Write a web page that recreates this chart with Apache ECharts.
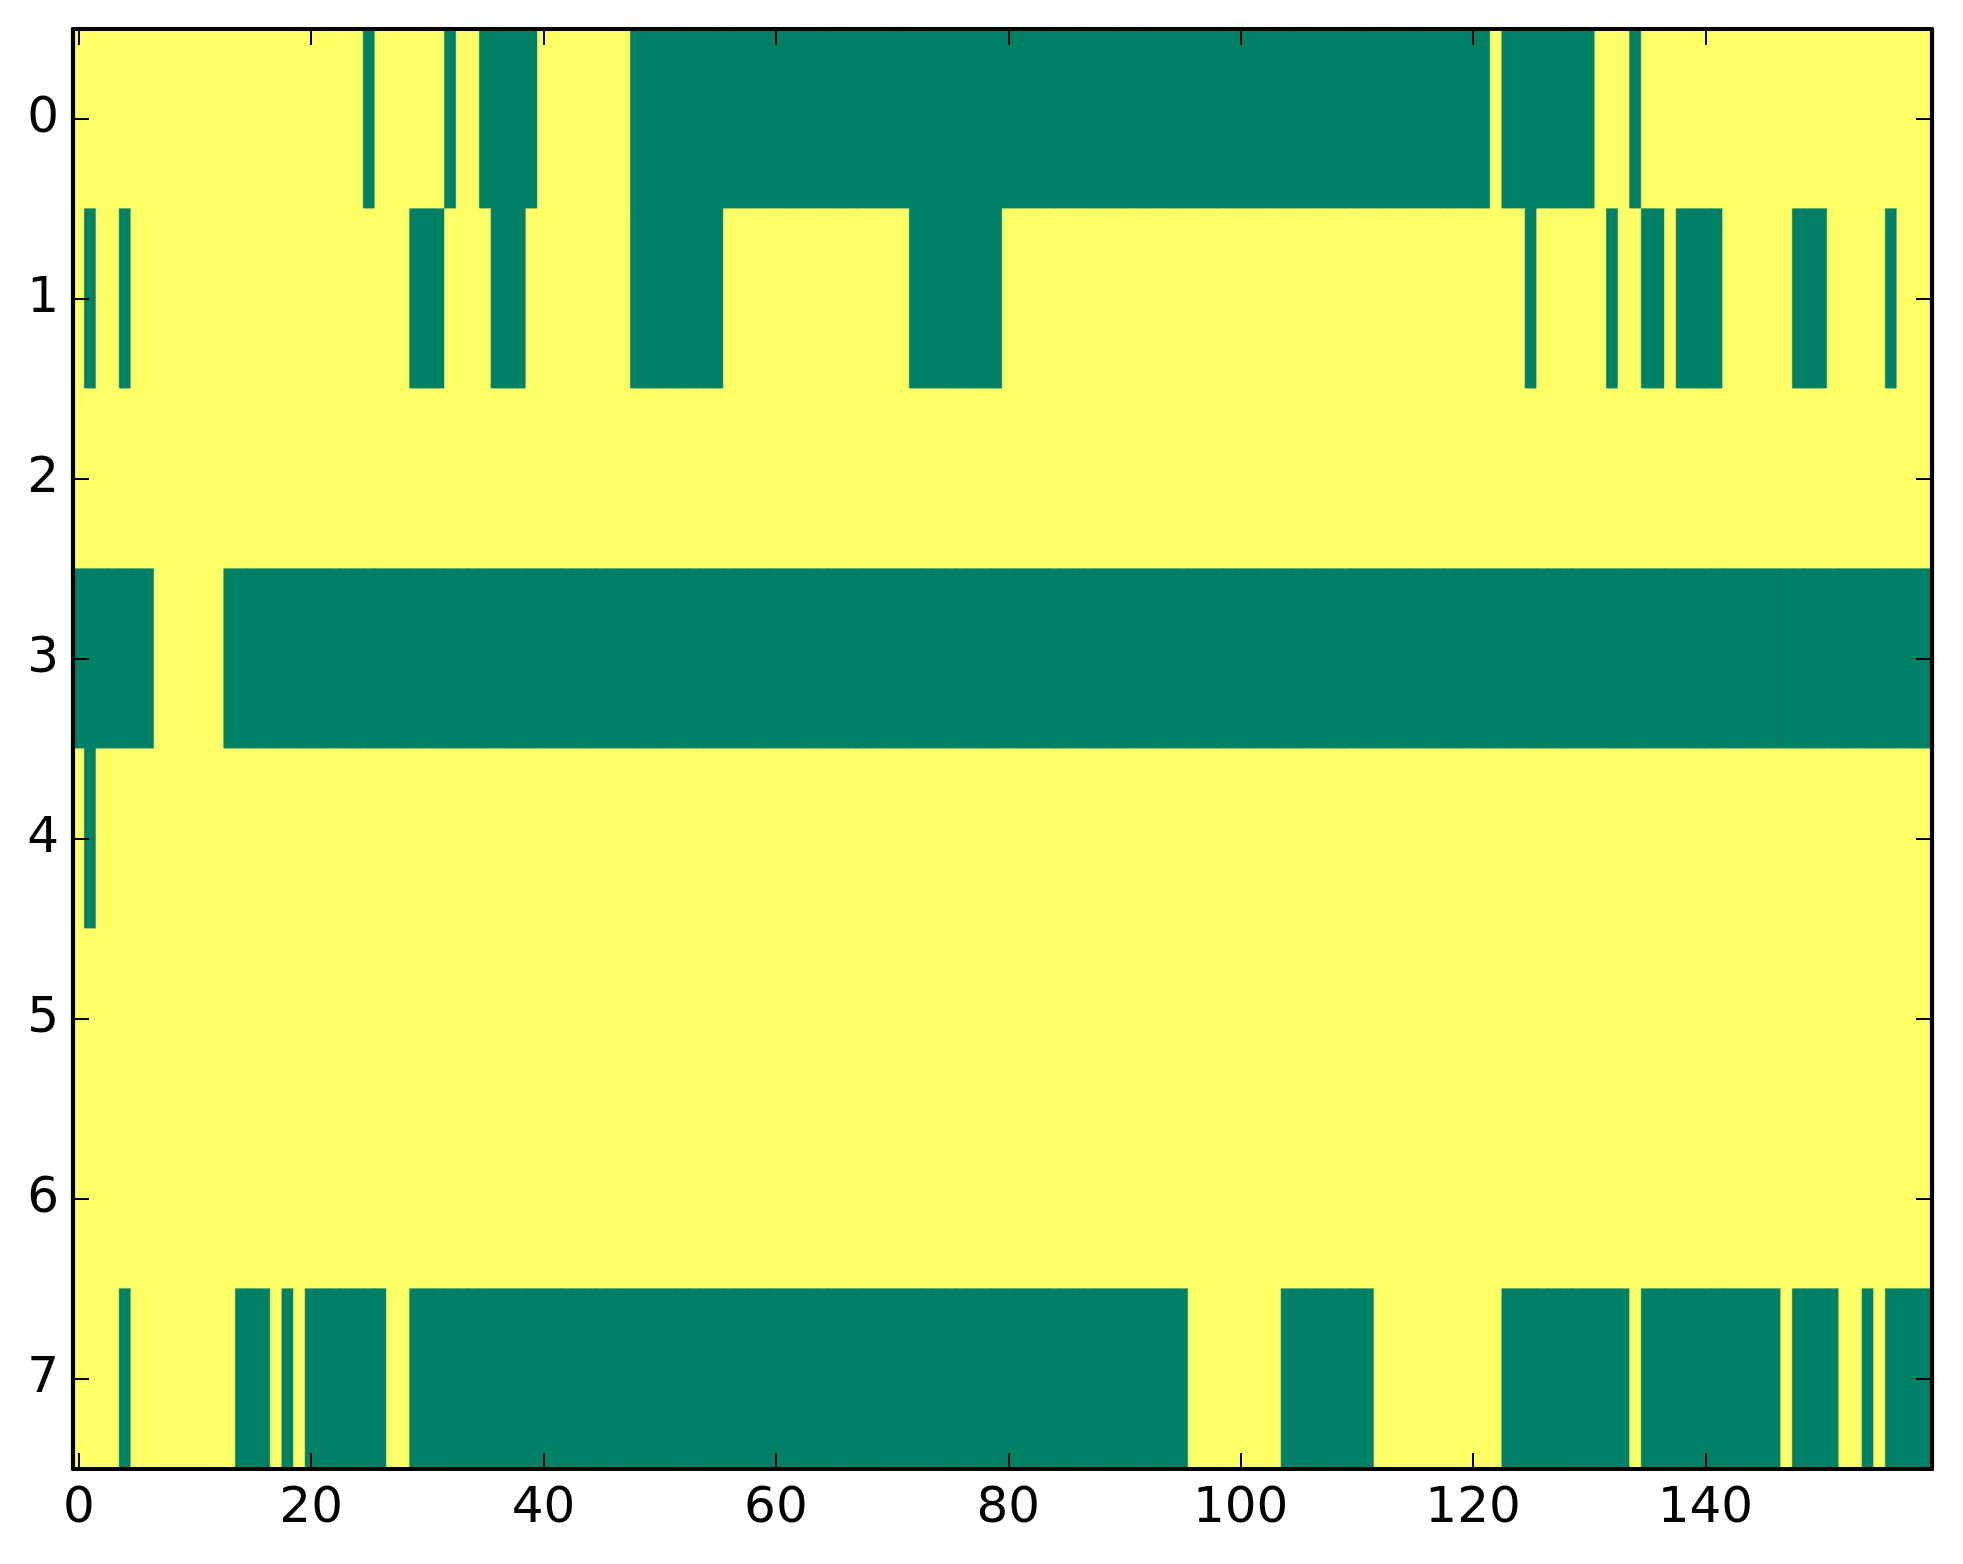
<!DOCTYPE html>
<html>
<head>
<meta charset="utf-8">
<script src="https://cdn.jsdelivr.net/npm/echarts@6/dist/echarts.min.js"></script>
<style>
html,body{margin:0;padding:0;background:#fff;}
#chart{width:1963px;height:1564px;}
</style>
</head>
<body>
<div id="chart"></div>
<script>
// Matrix values: 1 = yellow, 0 = green (groups of 10 columns)
const row0 = "1111111111 1111111111 1111101111 1101100000 1111111100 0000000000 0000000000 0000000000 0000000000 0000000000 0000000000 0000000000 0010000000 0111011111 1111111111 1111111111";
const row1 = "1011011111 1111111111 1111111110 0011110001 1111111100 0000001111 1111111111 1100000000 1111111111 1111111111 1111111111 1111111111 1111101111 1101100100 0011111100 0111110111";
const row2 = "1111111111 1111111111 1111111111 1111111111 1111111111 1111111111 1111111111 1111111111 1111111111 1111111111 1111111111 1111111111 1111111111 1111111111 1111111111 1111111111";
const row3 = "0000000111 1110000000 0000000000 0000000000 0000000000 0000000000 0000000000 0000000000 0000000000 0000000000 0000000000 0000000000 0000000000 0000000000 0000000000 0000000000";
const row4 = "1011111111 1111111111 1111111111 1111111111 1111111111 1111111111 1111111111 1111111111 1111111111 1111111111 1111111111 1111111111 1111111111 1111111111 1111111111 1111111111";
const row5 = "1111111111 1111111111 1111111111 1111111111 1111111111 1111111111 1111111111 1111111111 1111111111 1111111111 1111111111 1111111111 1111111111 1111111111 1111111111 1111111111";
const row6 = "1111111111 1111111111 1111111111 1111111111 1111111111 1111111111 1111111111 1111111111 1111111111 1111111111 1111111111 1111111111 1111111111 1111111111 1111111111 1111111111";
const row7 = "1111011111 1111000101 0000000110 0000000000 0000000000 0000000000 0000000000 0000000000 0000000000 0000001111 1111000000 0011111111 1110000000 0000100000 0000000100 0011010000";

const rows = [row0, row1, row2, row3, row4, row5, row6, row7];
const xCategories = Array.from({length: 160}, (_, i) => String(i));
const yCategories = ["0", "1", "2", "3", "4", "5", "6", "7"];
const xTickStep = 20;
const palette = ["#008066", "#ffff66"];

const data = [];
rows.forEach((r, yi) => {
  r.replace(/\s+/g, "").split("").forEach((ch, xi) => {
    const v = Number(ch);
    data.push({value: [xi, yi, v], itemStyle: {color: palette[v], borderColor: palette[v], borderWidth: 0.6}});
  });
});

const FONT = "DejaVu Sans";
const showX = (i) => i % xTickStep === 0;

const chart = echarts.init(document.getElementById("chart"), null, {renderer: "canvas"});
chart.setOption({
  animation: false,
  backgroundColor: "#ffffff",
  grid: {left: 73, top: 29, width: 1859, height: 1440, containLabel: false},
  xAxis: [
    {
      type: "category", data: xCategories, position: "bottom", z: 10,
      axisLine: {show: true, onZero: false, lineStyle: {color: "#000", width: 4.2}},
      axisTick: {show: true, inside: true, length: 16, alignWithLabel: true, interval: (i) => showX(i), lineStyle: {color: "#000", width: 2}},
      axisLabel: {show: true, interval: (i) => showX(i), fontSize: 50, fontFamily: FONT, color: "#000", margin: 15},
      splitLine: {show: false}
    },
    {
      type: "category", data: xCategories, position: "top", z: 10,
      axisLine: {show: true, onZero: false, lineStyle: {color: "#000", width: 4.2}},
      axisTick: {show: true, inside: true, length: 16, alignWithLabel: true, interval: (i) => showX(i), lineStyle: {color: "#000", width: 2}},
      axisLabel: {show: false},
      splitLine: {show: false}
    }
  ],
  yAxis: [
    {
      type: "category", data: yCategories, inverse: true, position: "left", z: 10,
      axisLine: {show: true, onZero: false, lineStyle: {color: "#000", width: 4.2}},
      axisTick: {show: true, inside: true, length: 16, alignWithLabel: true, lineStyle: {color: "#000", width: 2}},
      axisLabel: {show: true, fontSize: 50, fontFamily: FONT, color: "#000", margin: 14},
      splitLine: {show: false}
    },
    {
      type: "category", data: yCategories, inverse: true, position: "right", z: 10,
      axisLine: {show: true, onZero: false, lineStyle: {color: "#000", width: 4.2}},
      axisTick: {show: true, inside: true, length: 16, alignWithLabel: true, lineStyle: {color: "#000", width: 2}},
      axisLabel: {show: false},
      splitLine: {show: false}
    }
  ],
  series: [{
    type: "heatmap",
    xAxisIndex: 0,
    yAxisIndex: 0,
    data: data,
    progressive: 0,
    emphasis: {disabled: true},
    label: {show: false}
  }]
});
</script>
</body>
</html>
